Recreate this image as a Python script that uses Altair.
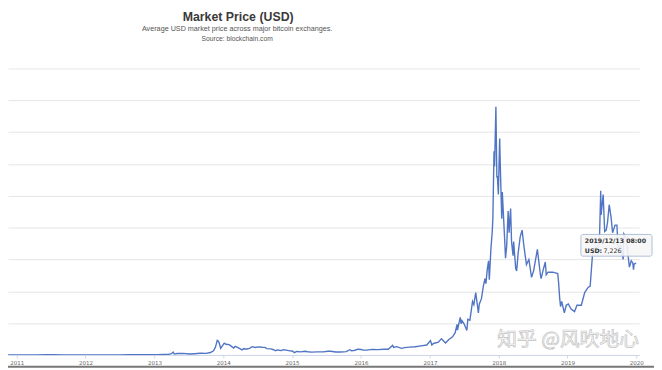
import altair as alt
import pandas as pd

dates = [
    "2010-08-17", "2010-12-01", "2011-02-10", "2011-04-15", "2011-06-08", "2011-07-15",
    "2011-09-01", "2011-11-15", "2012-01-10", "2012-04-01", "2012-07-01", "2012-08-16",
    "2012-10-01", "2012-12-01", "2013-01-15", "2013-02-20", "2013-03-15", "2013-04-01",
    "2013-04-10", "2013-04-16", "2013-05-01", "2013-06-01", "2013-07-05", "2013-08-01",
    "2013-09-01", "2013-10-01", "2013-10-25", "2013-11-10", "2013-11-20", "2013-11-30",
    "2013-12-05", "2013-12-10", "2013-12-18", "2013-12-26", "2014-01-06", "2014-01-15",
    "2014-02-01", "2014-02-15", "2014-02-25", "2014-03-05", "2014-03-20", "2014-04-10",
    "2014-04-20", "2014-05-01", "2014-05-20", "2014-06-03", "2014-06-20", "2014-07-05",
    "2014-07-25", "2014-08-10", "2014-08-20", "2014-09-10", "2014-09-25", "2014-10-05",
    "2014-10-15", "2014-11-05", "2014-11-15", "2014-12-01", "2014-12-20", "2015-01-01",
    "2015-01-14", "2015-01-25", "2015-02-15", "2015-03-10", "2015-03-25", "2015-04-15",
    "2015-05-15", "2015-06-15", "2015-07-10", "2015-07-25", "2015-08-20", "2015-09-15",
    "2015-10-15", "2015-11-04", "2015-11-12", "2015-12-01", "2015-12-15", "2016-01-01",
    "2016-01-15", "2016-02-01", "2016-03-01", "2016-04-01", "2016-05-01", "2016-05-25",
    "2016-06-17", "2016-06-23", "2016-07-10", "2016-08-02", "2016-08-20", "2016-09-15",
    "2016-10-15", "2016-11-15", "2016-12-15", "2017-01-04", "2017-01-11", "2017-01-20",
    "2017-02-15", "2017-03-03", "2017-03-25", "2017-04-10", "2017-05-01", "2017-05-15",
    "2017-05-25", "2017-05-27", "2017-06-11", "2017-06-15", "2017-06-20", "2017-07-01",
    "2017-07-16", "2017-07-21", "2017-08-01", "2017-08-15", "2017-08-22", "2017-09-01",
    "2017-09-15", "2017-09-20", "2017-10-01", "2017-10-12", "2017-10-20", "2017-10-25",
    "2017-11-01", "2017-11-08", "2017-11-12", "2017-11-20", "2017-11-28", "2017-12-01",
    "2017-12-07", "2017-12-10", "2017-12-17", "2017-12-22", "2017-12-25", "2017-12-30",
    "2018-01-06", "2018-01-10", "2018-01-17", "2018-01-20", "2018-02-02", "2018-02-06",
    "2018-02-12", "2018-02-20", "2018-02-25", "2018-03-05", "2018-03-10", "2018-03-18",
    "2018-03-21", "2018-04-01", "2018-04-06", "2018-04-14", "2018-04-25", "2018-05-05",
    "2018-05-15", "2018-05-28", "2018-06-10", "2018-06-24", "2018-07-05", "2018-07-25",
    "2018-08-10", "2018-08-14", "2018-08-25", "2018-09-05", "2018-09-10", "2018-09-20",
    "2018-10-15", "2018-11-10", "2018-11-15", "2018-11-20", "2018-11-25", "2018-12-01",
    "2018-12-15", "2018-12-25", "2019-01-05", "2019-01-20", "2019-02-07", "2019-02-20",
    "2019-03-15", "2019-04-02", "2019-04-20", "2019-05-01", "2019-05-14", "2019-05-20",
    "2019-05-31", "2019-06-10", "2019-06-20", "2019-06-26", "2019-06-28", "2019-07-09",
    "2019-07-17", "2019-07-25", "2019-08-01", "2019-08-10", "2019-08-20", "2019-08-28",
    "2019-09-10", "2019-09-20", "2019-09-26", "2019-10-10", "2019-10-23", "2019-10-27",
    "2019-11-08", "2019-11-22", "2019-11-25", "2019-12-05", "2019-12-13", "2019-12-17",
    "2019-12-20", "2019-12-31",
]
prices = [
    0.07, 0.23, 1.0, 1.0, 29, 14,
    8, 2.5, 7, 5, 7, 13,
    12, 12.5, 14, 30, 47, 100,
    230, 70, 115, 125, 70, 98,
    130, 125, 190, 330, 600, 1150,
    1100, 950, 520, 700, 930, 840,
    810, 650, 540, 670, 580, 400,
    500, 450, 520, 650, 590, 630,
    600, 590, 500, 480, 410, 330,
    390, 340, 410, 380, 320, 315,
    180, 270, 240, 290, 250, 220,
    240, 245, 290, 290, 230, 230,
    260, 410, 320, 370, 450, 430,
    380, 375, 435, 415, 450, 450,
    750, 590, 650, 520, 575, 610,
    640, 710, 780, 1130, 780, 900,
    1010, 1280, 940, 1200, 1420, 1750,
    2400, 1950, 2950, 2450, 2700, 2450,
    1920, 2800, 2730, 4200, 3950, 4900,
    3300, 4000, 4400, 5450, 6000, 5600,
    6700, 7400, 5900, 8200, 9800, 10800,
    16000, 14800, 19500, 14000, 14000, 12600,
    17000, 14500, 10700, 12800, 8900, 7600,
    8500, 11300, 9600, 11500, 8900, 7800,
    8900, 6800, 6600, 8000, 9300, 9800,
    8500, 7100, 7500, 6100, 6600, 8300,
    6300, 6000, 6700, 7300, 6300, 6500,
    6500, 6400, 5600, 4500, 3800, 4200,
    3300, 3900, 4000, 3600, 3400, 3900,
    3900, 4900, 5300, 5400, 8000, 8000,
    8600, 7900, 9500, 12900, 11000, 12600,
    9700, 9800, 10400, 11800, 10800, 9600,
    10200, 10200, 8200, 8600, 7500, 9500,
    9200, 7300, 6900, 7400, 7226, 6700,
    7150, 7200,
]
grid_values = [0, 2500, 5000, 7500, 10000, 12500, 15000, 17500, 20000, 22500]
years = list(range(2011, 2021))

title_text = "Market Price (USD)"
subtitle_text = "Average USD market price across major bitcoin exchanges."
source_text = "Source: blockchain.com"
tip_date = "2019/12/13 08:00"
tip_label = "USD:"
tip_value = "7,226"
watermark = "知乎 @风吹地心"

W, H = 639, 290
df = pd.DataFrame({"date": dates, "price": prices})
one = pd.DataFrame({"a": [0]})

x_enc = alt.X(
    "date:T",
    scale=alt.Scale(
        type="utc",
        domain=[alt.DateTime(year=2010, month=11, date=16, utc=True),
                alt.DateTime(year=2020, month=1, date=16, utc=True)],
    ),
    axis=alt.Axis(
        values=[alt.DateTime(year=y, month=1, date=1, utc=True) for y in years],
        labelExpr="utcFormat(datum.value, '%Y')",
        title=None, grid=False, domainColor="#ccd6eb", domainWidth=1,
        tickColor="#ccd6eb", tickSize=3, labelColor="#666666",
        labelFont="DejaVu Sans", labelFontSize=5.6, labelPadding=3,
    ),
)
y_enc = alt.Y(
    "price:Q",
    scale=alt.Scale(domain=[0, 22500], nice=False, zero=True),
    axis=alt.Axis(values=grid_values, labels=False, ticks=False, domain=False,
                  title=None, grid=True, gridColor="#e6e6e6", gridWidth=1),
)

line = alt.Chart(df).mark_line(color="#5075c4", strokeWidth=1.4, clip=True).encode(
    x=x_enc, y=y_enc
)


def txt(text, x, y, size, color, weight="normal", align="center", font="Liberation Sans", **kw):
    return alt.Chart(one).mark_text(
        text=text, fontSize=size, color=color, fontWeight=weight, align=align,
        baseline="middle", font=font, **kw
    ).encode(x=alt.value(x), y=alt.value(y))


title = txt(title_text, 233, -52, 12.5, "#3a3a3a", weight="bold")
sub = txt(subtitle_text, 232, -40, 7.3, "#555555")
src = txt(source_text, 232, -30, 6.8, "#555555")

wm = txt(watermark, 567, 275, 20, "#ffffff", font="Noto Sans CJK SC",
         stroke="#c2c2c2", strokeWidth=0.7)

tip_box = alt.Chart(one).mark_rect(
    fill="#f7f7f7", opacity=0.9, stroke="#a9b8d6", strokeWidth=1, cornerRadius=2
).encode(x=alt.value(580), x2=alt.value(652), y=alt.value(168), y2=alt.value(190))
tip1 = txt(tip_date, 584, 175, 6.3, "#333333", weight="bold", align="left", font="DejaVu Sans")
tip2 = txt(tip_label, 584, 185, 6.3, "#333333", weight="bold", align="left", font="DejaVu Sans")
tip3 = txt(tip_value, 603, 185, 6.3, "#333333", align="left", font="DejaVu Sans")

bottom_bar = alt.Chart(one).mark_rule(color="#777777", strokeWidth=2).encode(
    x=alt.value(0), x2=alt.value(654), y=alt.value(302)
)

chart = alt.layer(
    line, title, sub, src, wm, tip_box, tip1, tip2, tip3, bottom_bar
).properties(
    width=W, height=H,
    autosize=alt.AutoSizeParams(type="none"),
    padding={"left": 0, "top": 59, "right": 15, "bottom": 13},
    background="#ffffff",
).configure_view(stroke=None)

chart.save("out.html", embed_options={"renderer": "svg", "actions": False})
